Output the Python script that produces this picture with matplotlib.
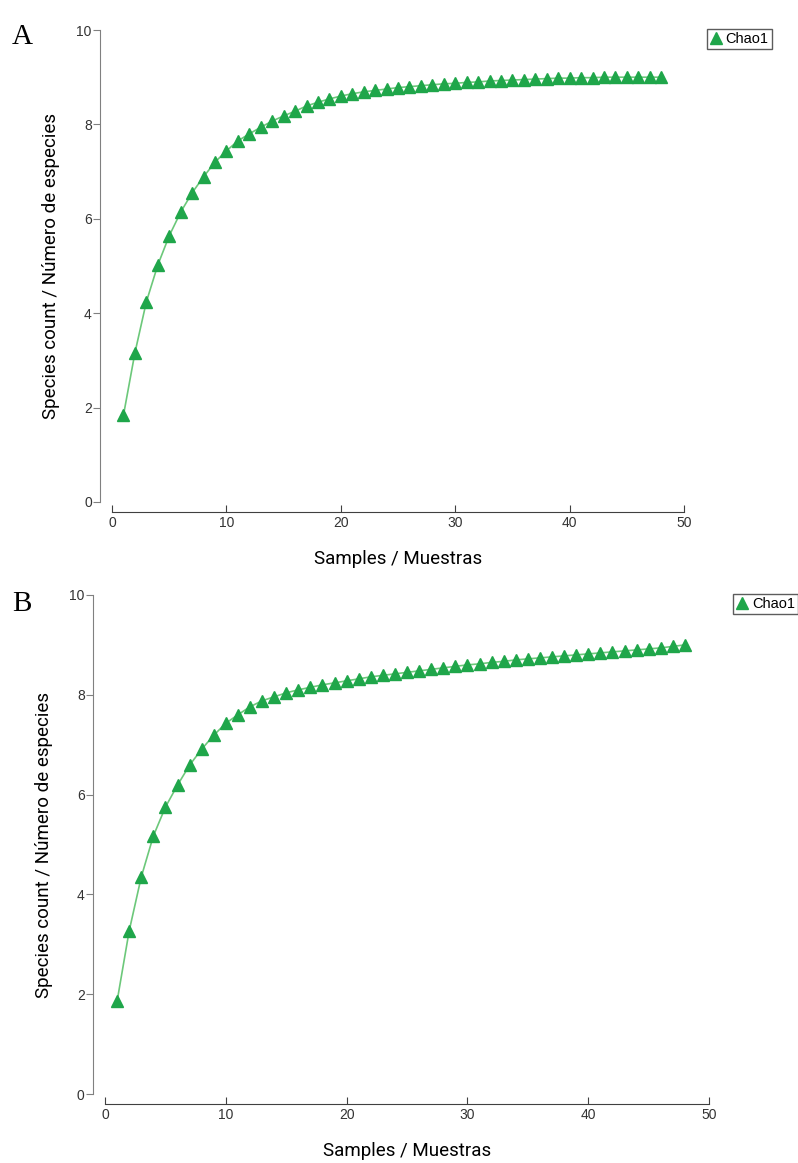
import numpy as np
import matplotlib
matplotlib.use('Agg')
import matplotlib.pyplot as plt
from matplotlib.lines import Line2D

# datos
muestras = list(range(1, 49))
chao1_A = [1.84, 3.16, 4.24, 5.02, 5.64, 6.14, 6.55, 6.89, 7.20, 7.44,
           7.65, 7.80, 7.94, 8.07, 8.18, 8.28, 8.39, 8.47, 8.54, 8.60,
           8.65, 8.69, 8.72, 8.75, 8.78, 8.80, 8.82, 8.84, 8.86, 8.87,
           8.89, 8.90, 8.92, 8.93, 8.94, 8.95, 8.96, 8.97, 8.98, 8.98,
           8.99, 8.99, 9.00, 9.00, 9.00, 9.00, 9.00, 9.00]
chao1_B = [1.86, 3.27, 4.35, 5.17, 5.75, 6.19, 6.59, 6.91, 7.19, 7.43,
           7.60, 7.76, 7.88, 7.96, 8.04, 8.10, 8.15, 8.20, 8.24, 8.28,
           8.32, 8.36, 8.39, 8.42, 8.45, 8.48, 8.51, 8.54, 8.57, 8.60,
           8.62, 8.65, 8.67, 8.70, 8.72, 8.74, 8.76, 8.78, 8.80, 8.82,
           8.84, 8.86, 8.88, 8.90, 8.92, 8.94, 8.97, 9.00]
xticks = [0, 10, 20, 30, 40, 50]
yticks = [0, 2, 4, 6, 8, 10]

verde = '#1fa64a'
linea = '#6cc87a'
narrow = ['Roboto', 'DejaVu Sans']
arial = ['Liberation Sans', 'DejaVu Sans']

fig = plt.figure(figsize=(7.98, 11.63), dpi=100)

paneles = [
    ('A', chao1_A, [0.1404, 0.5684, 0.7168, 0.4058], (0.015, 0.968), (0.967, 0.975)),
    ('B', chao1_B, [0.1316, 0.0593, 0.7570, 0.4291], (0.015, 0.481), (1.0, 0.489)),
]

for letra, datos, pos, pos_letra, pos_leg in paneles:
    ax = fig.add_axes(pos)
    ax.plot(muestras, datos, color=linea, lw=1.2, marker='^', markersize=8.5,
            markerfacecolor=verde, markeredgecolor=verde, clip_on=False)
    ax.set_xlim(0, 50)
    ax.set_ylim(0, 10)
    ax.set_xticks(xticks)
    ax.set_yticks(yticks)
    for s in ['top', 'right']:
        ax.spines[s].set_visible(False)
    ax.spines['left'].set_position(('outward', 8.6))
    ax.spines['bottom'].set_position(('outward', 7.4))
    ax.spines['left'].set_color('#808080')
    ax.spines['bottom'].set_color('#404040')
    ax.tick_params(axis='y', direction='out', length=5, color='#808080',
                   labelsize=10, labelcolor='#333333', pad=1)
    ax.tick_params(axis='x', direction='in', length=5, color='#404040',
                   labelsize=10, labelcolor='#333333', pad=3)
    for t in ax.get_xticklabels() + ax.get_yticklabels():
        t.set_family(arial)
    ax.set_xlabel('Samples / Muestras', fontsize=13.5, family=narrow, labelpad=14)
    ax.set_ylabel('Species count / Número de especies', fontsize=13.5, family=narrow, labelpad=12)
    fig.text(pos_letra[0], pos_letra[1], letra, family=['Liberation Serif', 'DejaVu Serif'],
             fontsize=21, va='center', ha='left')
    h = Line2D([], [], color=verde, marker='^', markersize=9, lw=0)
    fig.legend([h], ['Chao1'], loc='upper right', bbox_to_anchor=pos_leg,
               prop={'family': arial, 'size': 10.5}, frameon=True, fancybox=False,
               edgecolor='#333333', handlelength=0.8, handletextpad=0.3,
               borderpad=0.2, borderaxespad=0)

fig.savefig('out.png', dpi=100, facecolor='white')
